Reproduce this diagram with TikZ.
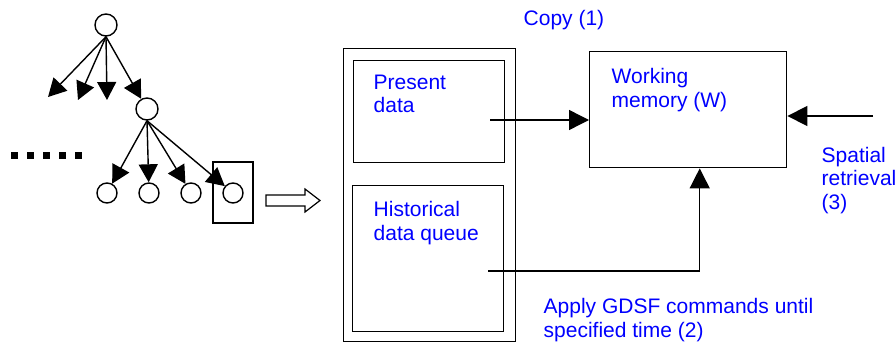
\documentclass[tikz,border=0pt]{standalone}
\usepackage{fontspec}
\setmainfont{Liberation Sans}
\usetikzlibrary{arrows.meta}
\usetikzlibrary{positioning}

\begin{document}
\begin{tikzpicture}[x=1pt,y=-1pt,line width=1.4pt,node distance=42pt,
  vertex/.style={draw,circle,inner sep=0pt,minimum size=22pt},
  leaf/.style={draw,circle,inner sep=0pt,minimum size=20pt},
  box/.style={draw,rectangle,inner sep=0pt,anchor=north west},
  txt/.style={blue,inner sep=0pt,anchor=base west,align=left,font=\fontsize{21}{23.5}\selectfont},
  tree/.style={-{Triangle[length=18pt,width=19pt]}},
  flow/.style={-{Triangle[length=20pt,width=20pt]}}]
  \useasboundingbox (0,0) rectangle (896,342);

  % search tree
  \node[vertex] (root) at (106,25) {};
  \node[vertex] (mid) at (147,109) {};
  \node[leaf] (l1) at (107,193) {};
  \node[leaf,right of=l1] (l2) {};
  \node[leaf,right of=l2] (l3) {};
  \node[leaf,right of=l3] (l4) {};
  \node[draw,inner sep=0pt,minimum width=40pt,minimum height=61pt] (pick) at (233,192.5) {};

  \coordinate (o1) at (48,97);
  \coordinate (o2) at (78,100);
  \coordinate (o3) at (107,100);

  \draw[tree](root.south)--(o1);
  \draw[tree](root.south)--(o2);
  \draw[tree](root.south)--(o3);
  \draw[tree](root.south)--(mid);
  \foreach \l in {l1,l2,l3,l4}
    \draw[tree](mid.south)--(\l);

  % more siblings
  \draw[line width=7pt,dash pattern=on 7pt off 9pt] (11,155.5) -- (83,155.5);

  % hollow arrow
  \draw[line width=1.2pt] (266,195) -- (305,195) -- (305,189) -- (320,200.5)
    -- (305,212) -- (305,206) -- (266,206) -- cycle;

  % data store and working memory
  \node[box,minimum width=172pt,minimum height=293pt] (store) at (343,48) {};
  \node[box,minimum width=151pt,minimum height=102pt] (present) at (353,60) {};
  \node[box,minimum width=151pt,minimum height=146pt] (history) at (352,185) {};
  \node[box,minimum width=197pt,minimum height=116pt] (wm) at (589,51) {};

  % labels (base = last line)
  \node[txt] (copy) at (523,26) {Copy (1)};
  \node[txt] (presentlbl) at (373,113) {Present\\data};
  \node[txt] (historylbl) at (373,240) {Historical\\data queue};
  \node[txt] (wmlbl) at (611,107) {Working\\memory (W)};
  \node[txt] (spatial) at (821,209) {Spatial\\retrieval\\(3)};
  \node[txt] (apply) at (543,337) {Apply GDSF commands until\\specified time (2)};

  \coordinate (pd) at (490,120);
  \coordinate (hq) at (488,271);
  \coordinate (sr) at (873,116);

  \draw[flow](pd)--(pd -| wm.west);
  \draw[flow](hq)-|([xshift=11.5pt]wm.south);
  \draw[flow](sr)--(sr -| wm.east);
\end{tikzpicture}
\end{document}
